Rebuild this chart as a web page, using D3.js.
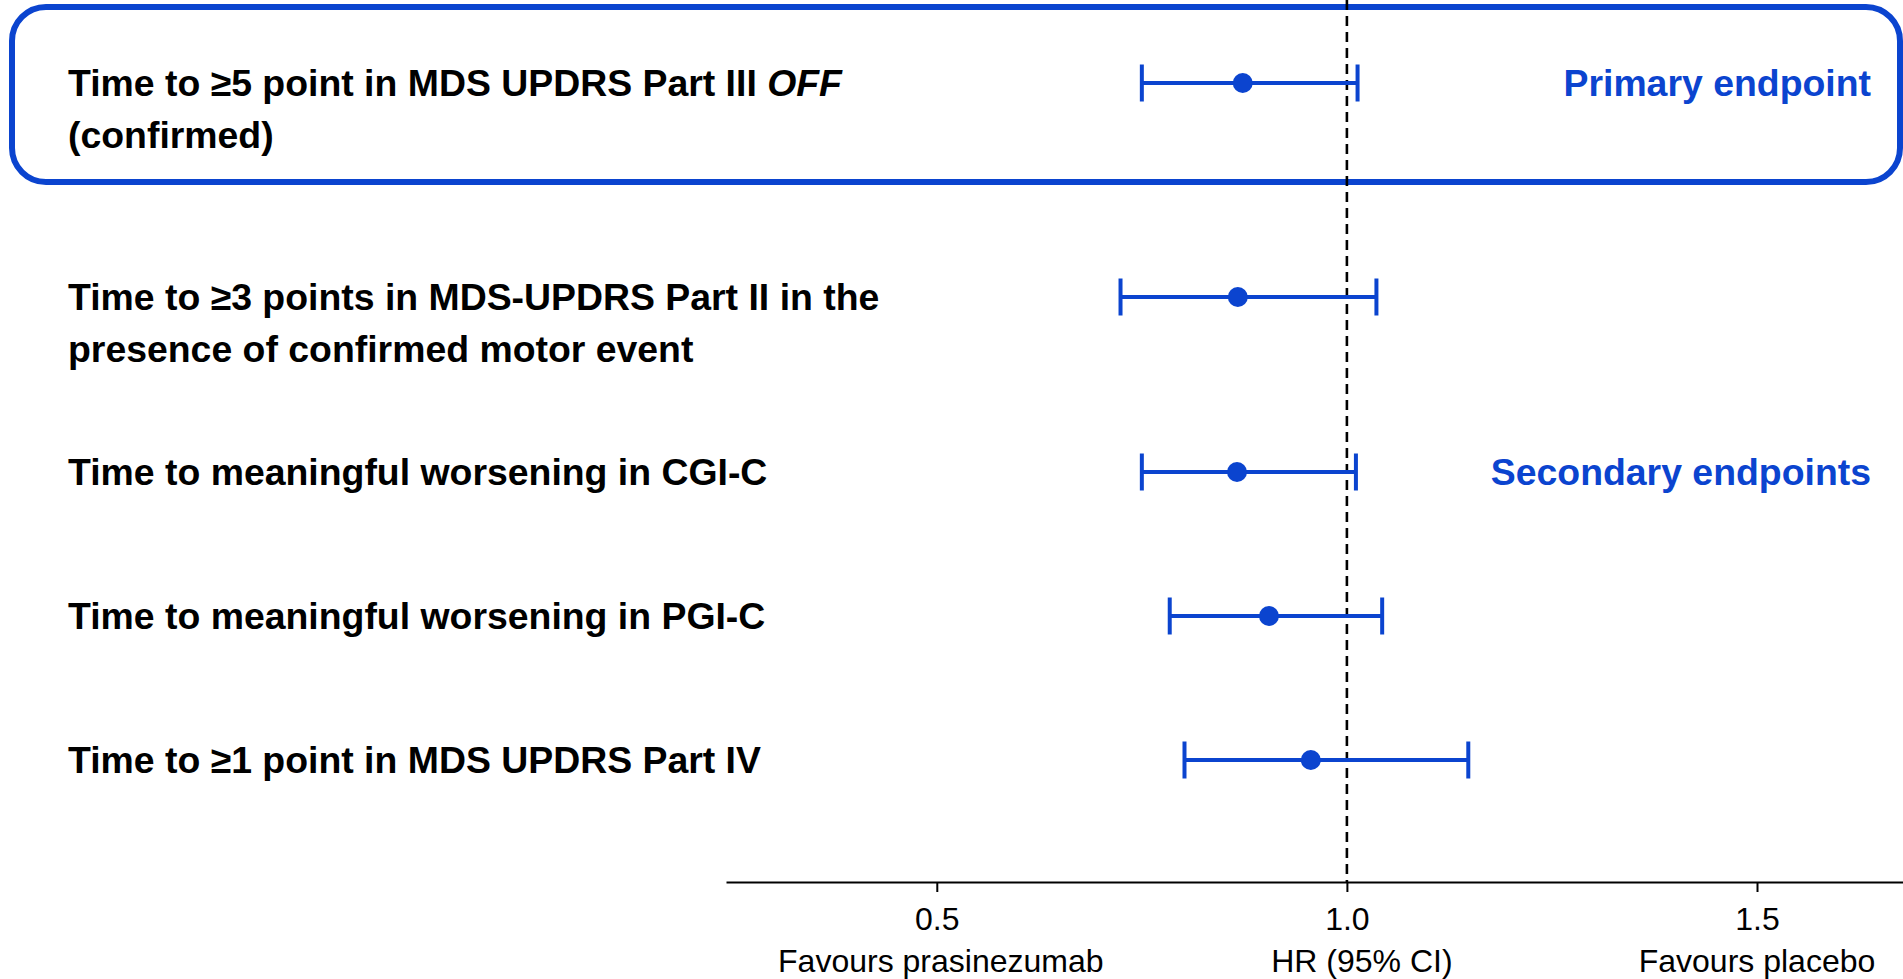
<!DOCTYPE html>
<html>
<head>
<meta charset="utf-8">
<script src="https://cdn.jsdelivr.net/npm/d3@7/dist/d3.min.js"></script>
<style>
  html, body { margin: 0; padding: 0; background: #fff; }
  svg { display: block; }
</style>
</head>
<body>
<svg id="chart" width="1903" height="979"></svg>
<script>
// ---------------- DATA ----------------
const endpointLabels = [
  ["Time to \u22655 point in MDS UPDRS Part III *OFF*", "(confirmed)"],
  ["Time to \u22653 points in MDS-UPDRS Part II in the", "presence of confirmed motor event"],
  ["Time to meaningful worsening in CGI-C"],
  ["Time to meaningful worsening in PGI-C"],
  ["Time to \u22651 point in MDS UPDRS Part IV"]
];
const endpointGroup = ["primary", "secondary", "secondary", "secondary", "secondary"];
const hr     = [0.873, 0.867, 0.866, 0.905, 0.956];
const ciLow  = [0.750, 0.724, 0.750, 0.784, 0.802];
const ciHigh = [1.013, 1.036, 1.011, 1.043, 1.148];

const groupNames  = ["primary", "secondary"];
const groupLabels = ["Primary endpoint", "Secondary endpoints"];

const tickValues = [0.5, 1.0, 1.5];
const tickLabels = ["0.5", "1.0", "1.5"];
const axisNotes  = ["Favours prasinezumab", "HR (95% CI)", "Favours placebo"];
const referenceValue = 1.0;

// ---------------- LAYOUT ----------------
const W = 1903, H = 979;
const blue = "#0B44CF";
const font = "'Liberation Sans', Arial, Helvetica, sans-serif";
const labelSize = 37.4, lineH = 52;
const axisY = 882;

const svg = d3.select("#chart");

const x = d3.scaleLinear().domain([0.243, 1.678]).range([726, 1903]);

// row vertical positions from label line counts and group changes
const rowStep = 144, extraLine = 31, groupGap = 39, firstRow = 83;
const rowY = [];
endpointLabels.forEach((lines, i) => {
  if (i === 0) { rowY.push(firstRow); return; }
  let y = rowY[i - 1] + rowStep + (endpointLabels[i - 1].length - 1) * extraLine;
  if (endpointGroup[i] !== endpointGroup[i - 1]) y += groupGap;
  rowY.push(y);
});

const rows = hr.map((v, i) => ({
  hr: v, lo: ciLow[i], hi: ciHigh[i], lines: endpointLabels[i],
  group: endpointGroup[i], y: rowY[i]
}));

// primary box
const primaryRows = rows.filter(r => r.group === "primary");
const boxTop = d3.min(primaryRows, r => r.y) - 76;
const boxBot = d3.max(primaryRows, r => r.y) + 99;
svg.append("rect")
  .attr("x", 12).attr("y", boxTop)
  .attr("width", 1888).attr("height", boxBot - boxTop)
  .attr("rx", 34).attr("ry", 34)
  .attr("fill", "none").attr("stroke", blue).attr("stroke-width", 6);

// reference dashed line
svg.append("line")
  .attr("x1", x(referenceValue)).attr("x2", x(referenceValue))
  .attr("y1", 0).attr("y2", axisY)
  .attr("stroke", "#000").attr("stroke-width", 2.6)
  .attr("stroke-dasharray", "10,6");

// row labels
const labelG = svg.append("g");
rows.forEach(r => {
  r.lines.forEach((line, li) => {
    const t = labelG.append("text")
      .attr("x", 68).attr("y", r.y + 13 + li * lineH)
      .attr("font-family", font).attr("font-size", labelSize)
      .attr("font-weight", "bold").attr("fill", "#000");
    line.split(/(\*[^*]+\*)/).filter(s => s.length).forEach(part => {
      const it = part.startsWith("*") && part.endsWith("*");
      t.append("tspan").text(it ? part.slice(1, -1) : part)
        .attr("font-style", it ? "italic" : "normal");
    });
  });
});

// error bars
const capH = 18.5;
const barG = svg.append("g").attr("stroke", blue).attr("stroke-width", 4);
rows.forEach(r => {
  barG.append("line").attr("x1", x(r.lo)).attr("x2", x(r.hi)).attr("y1", r.y).attr("y2", r.y);
  barG.append("line").attr("x1", x(r.lo)).attr("x2", x(r.lo)).attr("y1", r.y - capH).attr("y2", r.y + capH);
  barG.append("line").attr("x1", x(r.hi)).attr("x2", x(r.hi)).attr("y1", r.y - capH).attr("y2", r.y + capH);
});
svg.append("g").selectAll("circle").data(rows).join("circle")
  .attr("cx", d => x(d.hr)).attr("cy", d => d.y).attr("r", 10).attr("fill", blue);

// group labels
const groupRowIndex = [0, 2];
groupNames.forEach((g, gi) => {
  svg.append("text")
    .attr("x", 1871).attr("y", rowY[groupRowIndex[gi]] + 13)
    .attr("text-anchor", "end")
    .attr("font-family", font).attr("font-size", labelSize)
    .attr("font-weight", "bold").attr("fill", blue)
    .text(groupLabels[gi]);
});

// axis
const axis = d3.axisBottom(x)
  .tickValues(tickValues)
  .tickFormat((d, i) => tickLabels[i])
  .tickSize(10).tickSizeOuter(0).tickPadding(15);
const ag = svg.append("g").attr("transform", `translate(0,${axisY})`).call(axis);
ag.select(".domain").attr("stroke", "#000").attr("stroke-width", 2);
ag.selectAll(".tick line").attr("stroke", "#000").attr("stroke-width", 2);
ag.selectAll(".tick text").attr("font-family", font).attr("font-size", 32).attr("fill", "#000");

// notes under ticks
const noteShift = [4, 15, 0];
svg.append("g").selectAll("text").data(axisNotes).join("text")
  .attr("x", (d, i) => x(tickValues[i]) + noteShift[i])
  .attr("y", 972)
  .attr("text-anchor", "middle")
  .attr("font-family", font).attr("font-size", 32).attr("fill", "#000")
  .text(d => d);
</script>
</body>
</html>
